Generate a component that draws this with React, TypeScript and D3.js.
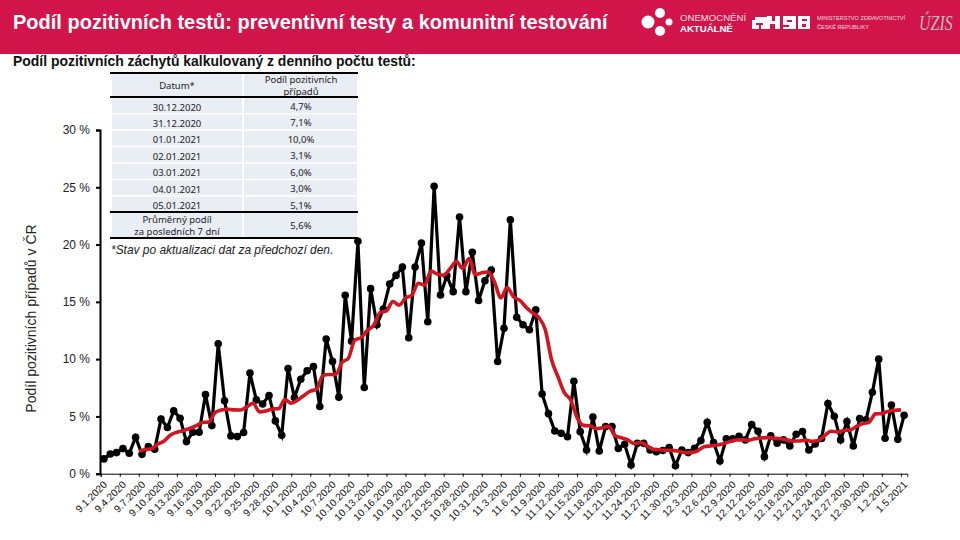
import * as React from "react";
import * as d3 from "d3";

const titleText = "Podíl pozitivních testů: preventivní testy a komunitní testování";
const subtitleText = "Podíl pozitivních záchytů kalkulovaný z denního počtu testů:";
const yAxisLabel = "Podíl pozitivních případů v ČR";
const noteText = "*Stav po aktualizaci dat za předchozí den.";

// one value per day, 1.9.2020 - 5.1.2021
const positiveShare = [
  1.29, 1.72, 1.84, 2.19, 1.78, 3.18, 1.69, 2.36, 2.13, 4.78, 4.03, 5.48, 4.84, 2.8, 3.62, 3.62, 6.91, 4.2, 11.34, 6.36,
  3.3, 3.24, 3.59, 8.78, 6.44, 6.09, 6.82, 4.61, 3.35, 9.18, 6.65, 8.25, 8.98, 9.36, 5.86, 11.75, 9.8, 6.68, 15.57, 11.57,
  20.29, 7.52, 16.15, 13.0, 14.37, 16.56, 17.31, 18.04, 11.86, 18.04, 20.14, 13.26, 25.09, 15.6, 17.28, 15.89, 22.41, 15.89, 19.32, 15.12,
  16.84, 17.77, 9.79, 12.7, 22.17, 13.66, 13.0, 12.56, 14.3, 6.96, 5.24, 3.73, 3.52, 3.23, 8.07, 3.67, 2.07, 4.95, 1.98, 4.11,
  4.11, 2.21, 2.56, 0.76, 2.65, 2.65, 2.07, 1.92, 2.02, 2.28, 0.7, 2.07, 1.84, 2.22, 2.89, 4.49, 2.72, 1.11, 3.04, 3.04,
  3.27, 2.95, 4.29, 3.71, 1.49, 3.3, 2.66, 2.95, 2.42, 3.44, 3.68, 2.07, 2.6, 3.07, 6.12, 5.02, 2.95, 4.55, 2.42, 4.81,
  4.7, 7.1, 10.0, 3.1, 6.0, 3.0, 5.1,
];

// red trend, starts on 9.7.2020
const trendShare = [
  1.96, 2.11, 2.17, 2.59, 2.85, 3.38, 3.62, 3.77, 3.95, 4.17, 4.47, 4.5, 5.33, 5.55, 5.62, 5.57, 5.56, 5.83, 6.15, 5.4,
  5.47, 5.65, 5.67, 6.47, 6.16, 6.42, 6.83, 7.2, 7.38, 8.58, 8.66, 8.67, 9.71, 10.08, 11.65, 11.88, 12.51, 12.97, 14.07, 14.21,
  15.03, 14.71, 15.33, 15.6, 16.62, 16.46, 17.68, 17.43, 17.32, 17.9, 18.52, 17.92, 18.78, 17.36, 17.54, 17.61, 16.73, 15.35, 16.24, 15.44,
  15.13, 14.52, 14.03, 13.62, 12.56, 9.92, 8.47, 7.08, 6.44, 4.92, 4.22, 4.18, 3.93, 4.01, 4.14, 3.3, 3.14, 2.95, 2.63, 2.72,
  2.43, 2.12, 2.09, 2.05, 2.04, 1.96, 1.84, 1.86, 2.0, 2.36, 2.42, 2.48, 2.62, 2.79, 2.94, 2.95, 2.92, 3.06, 3.11, 3.15,
  3.1, 3.05, 2.97, 2.85, 2.85, 2.93, 2.83, 2.89, 3.34, 3.71, 3.64, 3.77, 3.82, 4.13, 4.37, 4.51, 5.22, 5.24, 5.45, 5.53,
  5.57,
];

const yTicks = [0, 5, 10, 15, 20, 25, 30];

const tableDates = ["30.12.2020", "31.12.2020", "01.01.2021", "02.01.2021", "03.01.2021", "04.01.2021", "05.01.2021"];
const tableValues = ["4,7%", "7,1%", "10,0%", "3,1%", "6,0%", "3,0%", "5,1%"];

const days = d3.timeDay.range(new Date(2020, 8, 1), new Date(2021, 0, 6));

const red = "#d1144a";
const bodyFont = "'Liberation Sans', Arial, sans-serif";
const tableFont = "'Noto Sans', sans-serif";

export default function App() {
  const ref = React.useRef<SVGSVGElement>(null);

  React.useEffect(() => {
    const svg = d3.select(ref.current);
    svg.selectAll("*").remove();

    // header
    svg.append("rect").attr("width", 960).attr("height", 54).attr("fill", red);
    svg.append("text").attr("x", 13).attr("y", 29)
      .attr("font-family", bodyFont).attr("font-weight", "bold").attr("font-size", 20)
      .attr("fill", "#fff").text(titleText);

    // logos
    const logo = svg.append("g").attr("fill", "#fff");
    [[648, 22, 6.5], [660, 13, 5], [669, 22, 3.5], [660, 31, 5]].forEach(c => {
      logo.append("circle").attr("cx", c[0]).attr("cy", c[1]).attr("r", c[2]);
    });
    logo.append("text").attr("x", 680).attr("y", 21).attr("font-family", bodyFont).attr("font-size", 9.6).attr("opacity", 0.85).text("ONEMOCNĚNÍ");
    logo.append("text").attr("x", 680).attr("y", 32).attr("font-family", bodyFont).attr("font-size", 9.6).attr("font-weight", "bold").text("AKTUÁLNĚ");
    [[752, 17, 15, 12], [767, 16, 13, 13], [783, 16, 13, 13], [798, 16, 12, 13]].forEach(b => {
      logo.append("rect").attr("x", b[0]).attr("y", b[1]).attr("width", b[2]).attr("height", b[3]);
    });
    [[752, 17, 3, 3], [756, 23, 7, 2], [759, 25, 2, 4], [772, 16, 3, 5], [770, 24, 5, 5], [787, 20, 5, 2], [783, 25, 6, 2], [802, 19, 5, 2], [802, 24, 4, 3]].forEach(b => {
      logo.append("rect").attr("x", b[0]).attr("y", b[1]).attr("width", b[2]).attr("height", b[3]).attr("fill", red);
    });
    logo.append("text").attr("x", 817).attr("y", 20).attr("font-family", bodyFont).attr("font-size", 5.6).attr("opacity", 0.8).text("MINISTERSTVO ZDRAVOTNICTVÍ");
    logo.append("text").attr("x", 817).attr("y", 29).attr("font-family", bodyFont).attr("font-size", 5.6).attr("opacity", 0.8).text("ČESKÉ REPUBLIKY");
    svg.append("text").attr("transform", "translate(919,30) scale(1,1.3)")
      .attr("font-family", "'Liberation Serif', serif").attr("font-style", "italic").attr("font-size", 16)
      .attr("fill", "#c4bcc0").text("ÚZIS");

    svg.append("text").attr("x", 13).attr("y", 66)
      .attr("font-family", bodyFont).attr("font-weight", "bold").attr("font-size", 13.95)
      .attr("fill", "#111").text(subtitleText);

    // scales
    const x = d3.scaleTime()
      .domain([days[0], d3.timeDay.offset(days[days.length - 1], 1)])
      .range([100.7, 907.3]);
    const y = d3.scaleLinear().domain([0, 30]).range([473.7, 130]);
    const centre = (d: Date) => x(d3.timeHour.offset(d, 12));

    // y axis
    const yAxis = svg.append("g").attr("transform", "translate(100,0)")
      .call(d3.axisLeft(y).tickValues(yTicks).tickSize(4).tickFormat(d => d + " %"));
    yAxis.select(".domain").attr("stroke", "#000").attr("stroke-width", 2);
    yAxis.selectAll("line").attr("stroke", "#000").attr("stroke-width", 2);
    yAxis.selectAll("text").attr("font-family", bodyFont).attr("font-size", 12).attr("fill", "#222").attr("dx", -3);

    svg.append("text")
      .attr("transform", "translate(36,318.5) rotate(-90)")
      .attr("text-anchor", "middle")
      .attr("font-family", bodyFont).attr("font-size", 14).attr("fill", "#222")
      .text(yAxisLabel);

    // x axis, a tick every third day
    const xAxis = svg.append("g").attr("transform", "translate(0,473.7)")
      .call(d3.axisBottom(x)
        .tickValues(days.filter((d, i) => i % 3 === 0))
        .tickSize(3)
        .tickFormat(d3.timeFormat("%-m.%-d.%Y") as any));
    xAxis.select(".domain").attr("stroke", "#000").attr("stroke-width", 1);
    xAxis.selectAll("line").attr("stroke", "#000");
    xAxis.selectAll("text")
      .attr("font-family", bodyFont).attr("font-size", 10.2).attr("fill", "#111")
      .attr("text-anchor", "end")
      .attr("transform", "translate(3,8) rotate(-45)")
      .attr("dy", "0.5em").attr("y", 0).attr("x", 0);

    // daily share
    const line = d3.line<number>()
      .x((d, i) => centre(days[i]))
      .y(d => y(d));
    svg.append("path").attr("d", line(positiveShare))
      .attr("fill", "none").attr("stroke", "#000").attr("stroke-width", 3.2);
    svg.append("g").selectAll("circle").data(positiveShare).enter().append("circle")
      .attr("cx", (d, i) => centre(days[i]))
      .attr("cy", d => y(d))
      .attr("r", 3.8)
      .attr("fill", "#000");

    // trend sits on the tick, not in the middle of the day
    const trend = d3.line<number>()
      .x((d, i) => x(days[i + 6]))
      .y(d => y(d))
      .curve(d3.curveMonotoneX);
    svg.append("path").attr("d", trend(trendShare))
      .attr("fill", "none").attr("stroke", "#d2151f").attr("stroke-width", 3.6);

    // table
    const table = svg.append("g");
    const rowTop = 97, rowH = 16.43;
    const cell = (x0: number, w: number, y0: number, h: number) =>
      table.append("rect").attr("x", x0).attr("y", y0).attr("width", w).attr("height", h).attr("fill", "#e9edf4");
    const label = (cx: number, cy: number, s: string) =>
      table.append("text").attr("x", cx).attr("y", cy).attr("text-anchor", "middle")
        .attr("font-family", tableFont).attr("font-size", 9.5).attr("fill", "#222").text(s);
    const colA = 177, colB = 301;

    cell(112, 130, 74, 23); cell(244, 113, 74, 23);
    label(colA, 89, "Datum*");
    label(colB, 83, "Podíl pozitivních");
    label(colB, 95, "případů");

    tableDates.forEach((d, i) => {
      const top = rowTop + i * rowH;
      cell(112, 130, top + 1, rowH - 1.5);
      cell(244, 113, top + 1, rowH - 1.5);
      label(colA, top + 13.5, d);
      label(colB, top + 13, tableValues[i]);
    });
    cell(112, 130, 213, 25); cell(244, 113, 213, 25);
    label(colA, 223, "Průměrný podíl");
    label(colA, 235, "za posledních 7 dní");
    label(colB, 229, "5,6%");

    [73, 97, 212, 238].forEach(ly => {
      table.append("line").attr("x1", 110).attr("x2", 358).attr("y1", ly).attr("y2", ly)
        .attr("stroke", "#000").attr("stroke-width", 2);
    });

    svg.append("text").attr("x", 111).attr("y", 254)
      .attr("font-family", bodyFont).attr("font-style", "italic").attr("font-size", 11.95)
      .attr("fill", "#222").text(noteText);
  }, []);

  return <svg ref={ref} width={960} height={540} style={{ position: "absolute", left: 0, top: 0, background: "#fff" }} />;
}
